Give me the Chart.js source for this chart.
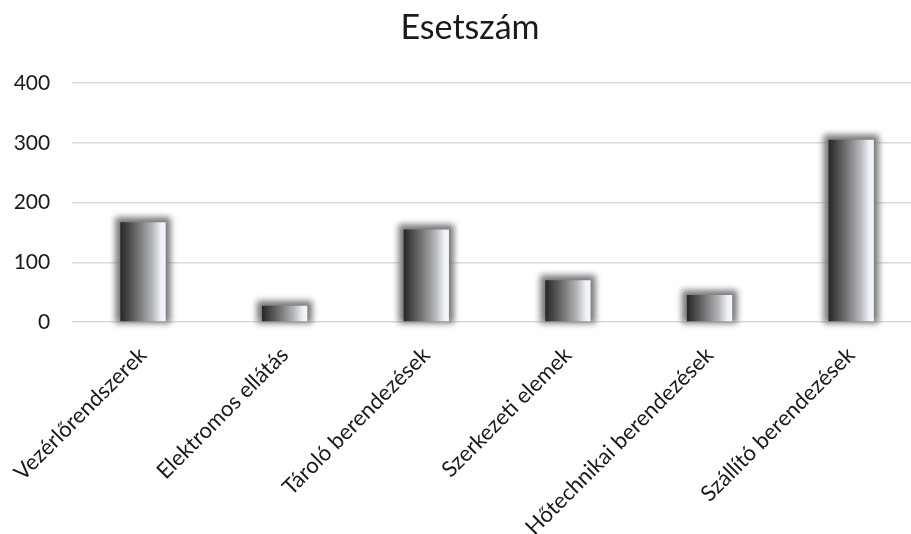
<!DOCTYPE html>
<html>
<head>
<meta charset="utf-8">
<script src="https://cdn.jsdelivr.net/npm/chart.js@4/dist/chart.umd.min.js"></script>
<style>
  html, body { margin: 0; padding: 0; background: #fff; overflow: hidden; }
  #wrap { width: 911px; height: 534px; overflow: hidden; }
  canvas { display: block; }
</style>
</head>
<body>
<div id="wrap">
  <canvas id="caseChart" width="940" height="534"></canvas>
</div>
<script>
// Chart data
const chartTitle = 'Esetszám';
const categories = [
  'Vezérlőrendszerek',
  'Elektromos ellátás',
  'Tároló berendezések',
  'Szerkezeti elemek',
  'Hőtechnikai berendezések',
  'Szállító berendezések'
];
const caseCounts = [167, 27, 155, 70, 45, 305];
const yTicks = [0, 100, 200, 300, 400];

const FONT = 'Lato, "Open Sans", sans-serif';
const TEXT = '#1a1a1a';
const BAR_PCT = 0.32;

// Horizontal metallic gradient across each bar
function barGradient(context) {
  const chart = context.chart;
  const area = chart.chartArea;
  if (!area || !chart.scales.x) return '#666';
  const cx = chart.scales.x.getPixelForValue(context.dataIndex);
  const w = area.width / categories.length * BAR_PCT;
  const g = chart.ctx.createLinearGradient(cx - w / 2, 0, cx + w / 2, 0);
  g.addColorStop(0, '#262626');
  g.addColorStop(0.35, '#6a6a6a');
  g.addColorStop(0.7, '#b4b6b9');
  g.addColorStop(0.9, '#eef1f6');
  g.addColorStop(1, '#f4f6fa');
  return g;
}

// Blurred grey halo behind each bar
const barGlow = {
  id: 'barGlow',
  beforeDatasetsDraw(chart) {
    const ctx = chart.ctx;
    const meta = chart.getDatasetMeta(0);
    ctx.save();
    ctx.filter = 'blur(3px)';
    ctx.fillStyle = 'rgba(120, 120, 120, 1)';
    meta.data.forEach(bar => {
      const { x, y, base, width } = bar.getProps(['x', 'y', 'base', 'width'], true);
      ctx.fillRect(x - width / 2 - 5, y - 5, width + 10, base - y + 7);
    });
    ctx.restore();
  }
};

// Title centred on the whole canvas rather than the padded box
const centredTitle = {
  id: 'centredTitle',
  afterDraw(chart) {
    const ctx = chart.ctx;
    ctx.save();
    ctx.font = `34px ${FONT}`;
    ctx.fillStyle = TEXT;
    ctx.textAlign = 'center';
    ctx.textBaseline = 'middle';
    ctx.fillText(chartTitle, chart.width / 2, 28);
    ctx.restore();
  }
};

new Chart(document.getElementById('caseChart'), {
  type: 'bar',
  data: {
    labels: categories,
    datasets: [{
      label: chartTitle,
      data: caseCounts,
      backgroundColor: barGradient,
      borderWidth: 0,
      barPercentage: BAR_PCT,
      categoryPercentage: 1
    }]
  },
  options: {
    responsive: false,
    animation: false,
    layout: { padding: { left: 0, right: 18, top: 83, bottom: 0 } },
    plugins: {
      legend: { display: false },
      tooltip: { enabled: false },
      title: { display: false }
    },
    scales: {
      y: {
        min: 0,
        max: 400,
        afterBuildTicks(scale) {
          scale.ticks = yTicks.map(v => ({ value: v }));
        },
        afterFit(scale) { scale.width = 71; },
        border: { display: false },
        grid: { color: '#d9d9d9', lineWidth: 1.5, drawTicks: false },
        ticks: {
          color: TEXT,
          font: { family: FONT, size: 21 },
          padding: 22
        }
      },
      x: {
        afterFit(scale) { scale.height = 212; },
        border: { display: false },
        grid: { display: false },
        ticks: {
          color: TEXT,
          font: { family: FONT, size: 22 },
          minRotation: 45,
          maxRotation: 45,
          autoSkip: false,
          padding: 12
        }
      }
    }
  },
  plugins: [barGlow, centredTitle]
});
</script>
</body>
</html>
